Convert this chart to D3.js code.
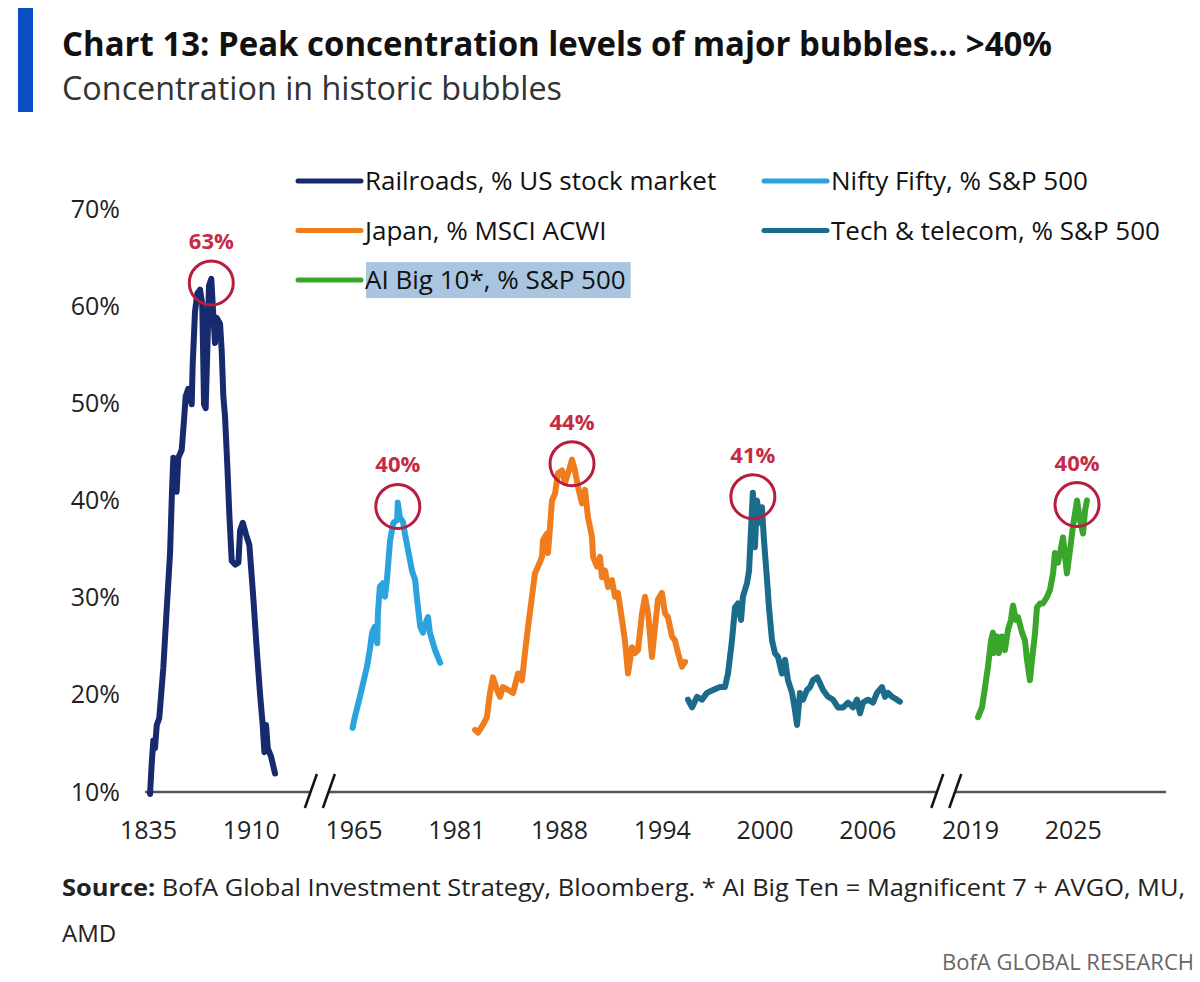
<!DOCTYPE html>
<html lang="en">
<head>
<meta charset="UTF-8">
<title>Chart 13: Peak concentration levels of major bubbles</title>
<script src="https://d3js.org/d3.v7.min.js"></script>
<style>
  body { margin: 0; background: #fff; }
  svg { display: block; font-family: "Open Sans", sans-serif; }
  .tick text { fill: #222; }
</style>
</head>
<body>
<svg id="chart" width="1200" height="982"></svg>
<script>
// x axis labels (each bubble sits on its own compressed time segment)
const tickYears = [1835, 1910, 1965, 1981, 1988, 1994, 2000, 2006, 2019, 2025];
const yTicks = [10, 20, 30, 40, 50, 60, 70];
const axisBreaks = [1947, 2016];

// [year, % share]
const railroads = [
  [1836.5, 9.8], [1837.7, 12.9], [1838.9, 15.3], [1840.1, 14.5], [1841.4, 16.9], [1843.2, 17.6],
  [1846.2, 22.8], [1848.6, 28.7], [1851.1, 34.6], [1852.5, 40.9], [1853.5, 44.4], [1854.7, 42.0],
  [1855.9, 40.9], [1857.1, 44.4], [1859.6, 45.2], [1861.3, 48.3], [1862.5, 50.7], [1864.4, 51.5],
  [1866.9, 49.9], [1867.6, 53.9], [1869.3, 59.4], [1871.0, 61.3], [1873.0, 61.7], [1874.6, 60.2],
  [1875.9, 49.9], [1877.1, 49.5], [1878.3, 55.4], [1879.5, 62.1], [1881.2, 62.8], [1882.7, 59.0],
  [1883.9, 56.2], [1885.1, 58.8], [1887.6, 58.2], [1888.8, 55.4], [1890.0, 50.7], [1891.2, 48.7],
  [1892.9, 43.6], [1894.4, 38.5], [1896.1, 33.8], [1898.6, 33.4], [1901.0, 33.6], [1902.2, 36.9],
  [1904.2, 37.7], [1906.6, 36.5], [1909.0, 35.4], [1911.4, 29.9], [1913.2, 24.7], [1915.0, 20.0],
  [1916.4, 16.9], [1917.3, 14.1], [1918.2, 16.9], [1919.1, 14.5], [1920.8, 13.7], [1923.0, 11.9]
];
const niftyFifty = [
  [1964.5, 16.6], [1965.2, 17.7], [1966.0, 19.8], [1967.1, 22.9], [1967.6, 24.9], [1967.9, 26.4],
  [1968.3, 27.0], [1968.7, 25.3], [1968.8, 28.4], [1969.1, 31.1], [1969.6, 31.5], [1969.9, 30.1],
  [1970.2, 31.8], [1970.7, 35.9], [1971.2, 37.7], [1971.8, 38.0], [1971.9, 39.8], [1972.2, 38.3],
  [1972.7, 37.8], [1973.0, 36.6], [1973.5, 34.9], [1974.1, 32.8], [1974.6, 31.8], [1974.9, 29.8],
  [1975.4, 27.0], [1975.8, 26.4], [1976.4, 27.7], [1976.6, 28.0], [1976.9, 26.4], [1977.7, 24.6],
  [1978.5, 23.3]
];
const japan = [
  [1982.28, 16.4], [1982.48, 16.1], [1982.82, 16.9], [1983.09, 17.7], [1983.30, 20.2], [1983.50, 21.8],
  [1983.78, 20.5], [1983.98, 19.8], [1984.18, 20.8], [1984.53, 20.5], [1984.87, 20.2], [1985.21, 22.2],
  [1985.48, 21.5], [1985.68, 24.3], [1985.89, 27.0], [1986.16, 30.1], [1986.36, 32.5], [1986.57, 33.2],
  [1986.84, 34.2], [1986.91, 35.9], [1987.18, 36.6], [1987.25, 34.6], [1987.39, 37.3], [1987.52, 40.0],
  [1987.73, 40.7], [1987.93, 42.8], [1988.18, 43.1], [1988.35, 41.8], [1988.53, 42.8], [1988.76, 44.2],
  [1988.93, 43.1], [1989.11, 41.4], [1989.34, 39.7], [1989.52, 41.1], [1989.69, 38.3], [1989.93, 36.2],
  [1989.99, 34.2], [1990.22, 33.2], [1990.39, 34.2], [1990.51, 32.1], [1990.69, 32.8], [1990.86, 31.1],
  [1991.09, 31.8], [1991.27, 30.1], [1991.44, 30.5], [1991.68, 27.7], [1991.85, 25.6], [1992.03, 22.2],
  [1992.26, 24.9], [1992.44, 24.3], [1992.61, 24.6], [1992.85, 28.4], [1993.02, 30.1], [1993.20, 28.4],
  [1993.43, 23.9], [1993.61, 27.0], [1993.78, 29.8], [1994.01, 30.5], [1994.19, 28.4], [1994.36, 28.0],
  [1994.60, 26.0], [1994.77, 25.6], [1994.95, 24.3], [1995.18, 22.9], [1995.36, 23.4]
];
const techTelecom = [
  [1995.53, 19.5], [1995.77, 18.7], [1996.06, 19.8], [1996.35, 19.5], [1996.64, 20.2], [1996.99, 20.5],
  [1997.40, 20.8], [1997.69, 20.8], [1997.87, 22.2], [1998.10, 25.6], [1998.28, 29.0], [1998.45, 29.4],
  [1998.63, 27.7], [1998.74, 30.1], [1998.98, 31.5], [1999.10, 32.8], [1999.20, 36.6], [1999.32, 40.8],
  [1999.44, 35.2], [1999.56, 40.0], [1999.74, 37.7], [1999.85, 39.3], [1999.97, 35.9], [2000.15, 31.8],
  [2000.26, 29.0], [2000.44, 25.6], [2000.61, 24.3], [2000.79, 23.9], [2001.02, 22.2], [2001.20, 23.6],
  [2001.37, 21.5], [2001.61, 20.2], [2001.78, 18.4], [2001.90, 16.9], [2002.07, 20.2], [2002.25, 19.5],
  [2002.48, 20.5], [2002.66, 20.8], [2002.83, 21.5], [2003.07, 21.8], [2003.24, 21.2], [2003.42, 20.5],
  [2003.71, 19.8], [2004.00, 19.5], [2004.29, 18.7], [2004.58, 18.7], [2004.88, 19.2], [2005.17, 18.7],
  [2005.40, 19.5], [2005.58, 18.1], [2005.75, 19.2], [2006.09, 19.5], [2006.73, 19.2], [2007.23, 20.2],
  [2007.87, 20.8], [2008.25, 19.8], [2008.63, 20.2], [2009.14, 19.8], [2009.76, 19.5], [2010.13, 19.3]
];
const aiBig10 = [
  [2019.47, 17.7], [2019.70, 18.7], [2019.88, 20.8], [2020.05, 22.9], [2020.23, 25.6], [2020.34, 26.4],
  [2020.40, 24.3], [2020.58, 26.0], [2020.69, 24.3], [2020.87, 26.0], [2021.04, 24.6], [2021.22, 26.7],
  [2021.39, 27.7], [2021.51, 29.2], [2021.69, 27.7], [2021.80, 28.0], [2022.04, 26.4], [2022.21, 25.6],
  [2022.33, 23.6], [2022.50, 21.5], [2022.62, 23.6], [2022.80, 26.4], [2022.91, 29.0], [2023.09, 29.4],
  [2023.26, 29.4], [2023.50, 30.1], [2023.67, 30.8], [2023.85, 32.5], [2023.96, 34.6], [2024.14, 33.6],
  [2024.26, 34.6], [2024.43, 36.2], [2024.66, 32.5], [2024.84, 34.9], [2025.01, 37.3], [2025.25, 40.0],
  [2025.42, 38.0], [2025.60, 36.6], [2025.72, 39.0], [2025.83, 40.0]
];

const seriesData = [railroads, niftyFifty, japan, techTelecom, aiBig10];
const seriesNames = ["Railroads, % US stock market", "Nifty Fifty, % S&P 500", "Japan, % MSCI ACWI",
                     "Tech & telecom, % S&P 500", "AI Big 10*, % S&P 500"];
const seriesColors = ["#172a6e", "#2aa3de", "#ef7d1d", "#1b6b8a", "#3aa62b"];
const peakLabels = ["63%", "40%", "44%", "41%", "40%"];

const svg = d3.select("#chart");

// header
svg.append("rect").attr("x", 18).attr("y", 8).attr("width", 15).attr("height", 104).attr("fill", "#0a4fc6");
svg.append("text").attr("x", 62).attr("y", 56)
    .attr("textLength", 990).attr("lengthAdjust", "spacingAndGlyphs")
    .style("font-size", "34px").style("font-weight", "bold").style("fill", "#111")
    .text("Chart 13: Peak concentration levels of major bubbles... >40%");
svg.append("text").attr("x", 62).attr("y", 100)
    .attr("textLength", 500).attr("lengthAdjust", "spacingAndGlyphs")
    .style("font-size", "33px").style("fill", "#333")
    .text("Concentration in historic bubbles");

// scales
const left = 148, step = 102.75, axisEnd = 1166;
const x = d3.scaleLinear()
    .domain(tickYears)
    .range(tickYears.map((d, i) => left + i * step));
const y = d3.scaleLinear().domain([10, 70]).range([792, 209]);

// y axis labels only
const yAxis = svg.append("g")
    .attr("transform", "translate(120,0)")
    .call(d3.axisLeft(y).tickValues(yTicks).tickFormat(d => d + "%").tickSize(0).tickPadding(0));
yAxis.select(".domain").remove();
yAxis.selectAll("text").style("font-size", "25px").style("font-family", "Open Sans");

// x axis labels
const xAxis = svg.append("g")
    .attr("transform", `translate(0,${y(10)})`)
    .call(d3.axisBottom(x).tickValues(tickYears).tickFormat(d3.format("d")).tickSize(0).tickPadding(29));
xAxis.select(".domain").remove();
xAxis.selectAll("text").style("font-size", "25px").style("font-family", "Open Sans");

// broken axis line
const gap = 9;
const bx = axisBreaks.map(x);
const segs = [[x(tickYears[0]) - 3, bx[0] - gap], [bx[0] + gap, bx[1] - gap], [bx[1] + gap, axisEnd]];
svg.append("g").selectAll("line").data(segs).join("line")
    .attr("x1", d => d[0]).attr("x2", d => d[1])
    .attr("y1", y(10)).attr("y2", y(10))
    .attr("stroke", "#555").attr("stroke-width", 2.5);
const slashes = bx.flatMap(b => [b - gap, b + gap]);
svg.append("g").selectAll("line").data(slashes).join("line")
    .attr("x1", d => d - 6).attr("y1", y(10) + 16)
    .attr("x2", d => d + 6).attr("y2", y(10) - 18)
    .attr("stroke", "#111").attr("stroke-width", 2.5);

// lines
const line = d3.line().x(d => x(d[0])).y(d => y(d[1]));
svg.append("g").selectAll("path").data(seriesData).join("path")
    .attr("d", line)
    .attr("fill", "none")
    .attr("stroke", (d, i) => seriesColors[i])
    .attr("stroke-width", 6)
    .attr("stroke-linejoin", "round")
    .attr("stroke-linecap", "round");

// peak markers
const peaks = seriesData.map(s => d3.greatest(s, d => d[1]));
const marks = svg.append("g").selectAll("g").data(peaks).join("g")
    .attr("transform", d => `translate(${x(d[0])},${y(d[1]) + 4})`);
marks.append("circle").attr("r", 22)
    .attr("fill", "none").attr("stroke", "#b81d3f").attr("stroke-width", 3);
marks.append("text").attr("y", -34).attr("text-anchor", "middle")
    .style("font-size", "22px").style("font-weight", "bold").style("fill", "#c42b45")
    .text((d, i) => peakLabels[i]);

// legend
const legendCols = [298, 764], legendRow0 = 181, legendRowStep = 49.5;
const legend = svg.append("g").selectAll("g").data(seriesNames).join("g")
    .attr("transform", (d, i) => `translate(${legendCols[i % 2]},${legendRow0 + Math.floor(i / 2) * legendRowStep})`);
legend.append("line").attr("x1", 0).attr("x2", 63).attr("y1", 0).attr("y2", 0)
    .attr("stroke", (d, i) => seriesColors[i]).attr("stroke-width", 5).attr("stroke-linecap", "round");
legend.append("text").attr("x", 67).attr("dy", "0.35em")
    .style("font-size", "26px").style("fill", "#111")
    .text(d => d);
// highlighted last entry
const hl = legend.filter((d, i) => i === seriesNames.length - 1);
const bb = hl.select("text").node().getBBox();
hl.insert("rect", "text")
    .attr("x", bb.x + 1).attr("y", bb.y + 1).attr("width", bb.width + 4).attr("height", bb.height)
    .attr("fill", "#a9c5df");

// footer
const src = svg.append("text").attr("x", 62).attr("y", 896)
    .attr("textLength", 1123).attr("lengthAdjust", "spacingAndGlyphs")
    .style("font-size", "24px").style("fill", "#222");
src.append("tspan").style("font-weight", "bold").text("Source:");
src.append("tspan").text(" BofA Global Investment Strategy, Bloomberg. * AI Big Ten = Magnificent 7 + AVGO, MU,");
svg.append("text").attr("x", 62).attr("y", 942)
    .style("font-size", "24px").style("fill", "#222").text("AMD");
svg.append("text").attr("x", 1194).attr("y", 970).attr("text-anchor", "end")
    .style("font-size", "22px").style("fill", "#666").text("BofA GLOBAL RESEARCH");
</script>
</body>
</html>
